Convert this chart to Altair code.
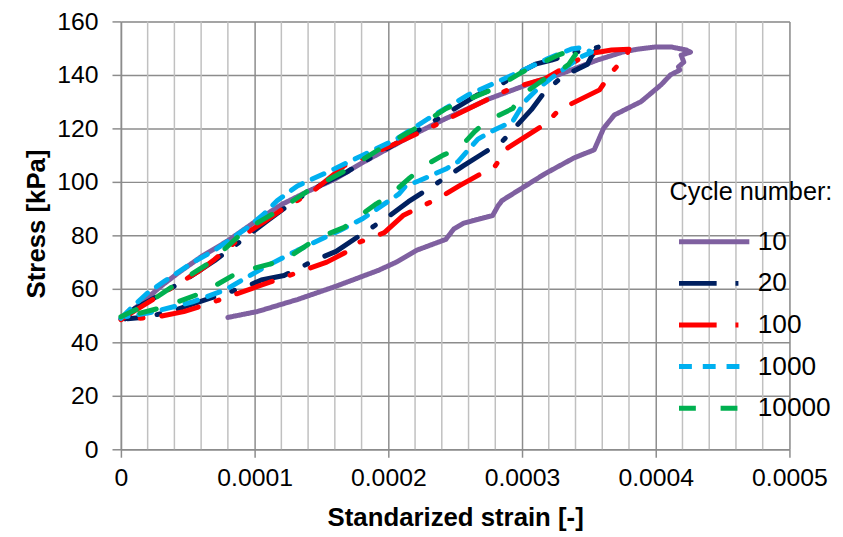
import altair as alt
import pandas as pd

cycles = ["10", "20", "100", "1000", "10000"]
colors = ["#7F60A0", "#002060", "#FF0000", "#00B0F0", "#00B050"]
dashes = [[1, 0], [38, 19, 3, 19], [38, 19, 3, 19], [13, 11], [17, 25]]

x_major = [0, 0.0001, 0.0002, 0.0003, 0.0004, 0.0005]
x_minor = [0.00002, 0.00004, 0.00006, 0.00008, 0.00012, 0.00014, 0.00016, 0.00018,
           0.00022, 0.00024, 0.00026, 0.00028, 0.00032, 0.00034, 0.00036, 0.00038,
           0.00042, 0.00044, 0.00046, 0.00048]
y_ticks = [0, 20, 40, 60, 80, 100, 120, 140, 160]

strain_10 = [0.0, 0.000006, 0.000015, 0.00003, 0.000043, 0.00006, 0.00008, 0.0001, 0.00012,
             0.00014, 0.00016, 0.00018, 0.0002, 0.00022, 0.000243, 0.00026, 0.000275, 0.00031,
             0.000327, 0.000356, 0.000375, 0.000386, 0.000399, 0.000412, 0.000423, 0.000426,
             0.000419, 0.000421, 0.000417, 0.000418, 0.000411, 0.000404, 0.000389, 0.000369,
             0.000361, 0.000354, 0.000339, 0.000317, 0.000285, 0.000282, 0.000278, 0.000256,
             0.000249, 0.000243, 0.000221, 0.000206, 0.000193, 0.000161, 0.000132, 0.000102,
             0.00008]
stress_10 = [48.8, 51, 54.5, 61, 66, 72, 78, 85, 91.5,
             96.5, 101, 107, 112.5, 118, 123.7, 127.5, 131, 137.5,
             140, 145.5, 148.5, 149.6, 150.4, 150.4, 149.3, 148.5,
             147.4, 144.8, 143, 141.8, 140, 136.3, 130, 125,
             120, 112, 109, 103, 93, 91, 87.4, 84.5,
             82.4, 78.5, 74.4, 70, 67, 61, 56, 51.5,
             49.3]

strain_20 = [0.000003, 0.00001, 0.00003, 0.00005, 0.00007, 0.00009, 0.00011, 0.00013, 0.00015,
             0.00017, 0.00019, 0.00021, 0.00024, 0.000267, 0.00028, 0.000295, 0.00031, 0.000322,
             0.00034, 0.000357, 0.000352, 0.000349, 0.00033, 0.000317, 0.000307, 0.000285,
             0.000271, 0.000256, 0.00023, 0.000215, 0.000201, 0.000181, 0.000161, 0.000145,
             0.000122, 0.000105, 0.000093, 0.000068, 0.00004, 0.00002, 0.000005]
stress_20 = [48.8, 52.5, 58, 64, 70.5, 78, 85.6, 93, 99,
             104, 110, 115.5, 124.5, 132.6, 135, 140, 144, 145.5,
             148.5, 150.4, 147, 144, 139.3, 133.7, 127, 115,
             110.7, 106, 97.4, 92.6, 87.4, 80.7, 74, 70.7,
             65, 63.3, 60.7, 56.7, 52, 49.5, 48.8]

strain_100 = [0.0, 0.000011, 0.000027, 0.00004, 0.000058, 0.00007, 0.000082, 0.000093, 0.000107,
              0.00012, 0.000132, 0.000145, 0.000167, 0.000181, 0.000204, 0.000233, 0.000248,
              0.000275, 0.000292, 0.000317, 0.000339, 0.000349, 0.000367, 0.00038, 0.000378,
              0.000367, 0.000358, 0.000328, 0.000317, 0.000289, 0.00028, 0.000253, 0.000238,
              0.000211, 0.000197, 0.000176, 0.000171, 0.000154, 0.000126, 0.000112, 0.000063,
              0.000047, 0.000028, 0.00001, 0.0]
stress_100 = [48.5, 52, 57, 61, 66.5, 71, 76, 80.5, 85,
              89.5, 93, 97, 106, 109, 114, 120.7, 124.4,
              131, 135, 138.5, 144.8, 147.8, 149.3, 149.6, 147,
              141, 134.4, 127, 121.5, 112.6, 106, 98.5, 94,
              87.4, 81, 77, 74.4, 70, 65, 62.6, 54,
              51.5, 49.6, 48.8, 48.5]

strain_1000 = [0.0, 0.000004, 0.000008, 0.00002, 0.000033, 0.000053, 0.00007, 0.000095, 0.000107,
               0.000117, 0.000132, 0.000156, 0.000181, 0.000206, 0.00023, 0.00026, 0.000293,
               0.000319, 0.000337, 0.000345, 0.000352, 0.000344, 0.000325, 0.000312, 0.000302,
               0.000293, 0.00028, 0.000267, 0.000252, 0.000243, 0.000223, 0.000213, 0.000208,
               0.000181, 0.000164, 0.000132, 0.000107, 0.000078, 0.000053, 0.000021, 0.000004]
stress_1000 = [49, 51, 53, 58.5, 63, 69.6, 74.4, 83, 88,
               93, 98.5, 104, 110, 116, 123.7, 132.6, 140,
               146, 149.7, 150.2, 148.5, 146.7, 140, 135, 130,
               122.6, 119.6, 116, 107.5, 104.8, 100.4, 98.5, 95.5,
               86.3, 81.9, 74.4, 68, 59.6, 55, 51, 49.6]

strain_10000 = [0.0, 0.000016, 0.000045, 0.000067, 0.000093, 0.000117, 0.000141, 0.000167, 0.000199,
                0.000219, 0.000243, 0.00028, 0.0003, 0.000327, 0.000339, 0.000343, 0.000335,
                0.000327, 0.000317, 0.0003, 0.000293, 0.000273, 0.000265, 0.000253, 0.000241,
                0.000227, 0.000216, 0.000201, 0.000191, 0.000167, 0.000147, 0.000122, 0.000087,
                0.000063, 0.000033, 0.000004]
stress_10000 = [49.6, 53.3, 63, 70, 82, 89, 97, 104, 114,
                119.6, 127.4, 135, 141, 147.4, 149.6, 149.8, 144,
                141, 138.5, 132.6, 127.4, 122.6, 119, 112.6, 110,
                106, 101.5, 94.8, 91.8, 83, 78.9, 70.7, 66,
                59, 53.3, 49.6]

series = {
    "10": (strain_10, stress_10),
    "20": (strain_20, stress_20),
    "100": (strain_100, stress_100),
    "1000": (strain_1000, stress_1000),
    "10000": (strain_10000, stress_10000),
}

rows = []
for c in cycles:
    xs, ys = series[c]
    for i, (sx, sy) in enumerate(zip(xs, ys)):
        rows.append({"cycle": c, "strain": sx, "stress": sy, "idx": i})
df = pd.DataFrame(rows)
minor_df = pd.DataFrame({"strain": x_minor})

FONT = "Liberation Sans"
GRID = "#8C8C8C"

x_enc = alt.X(
    "strain:Q",
    scale=alt.Scale(domain=[0, 0.0005], nice=False, zero=False),
    axis=alt.Axis(
        values=x_major,
        labelExpr="datum.value == 0 ? '0' : format(datum.value, '.4f')",
        title="Standarized strain [-]",
        grid=True, gridColor=GRID, gridWidth=1.5,
        domainColor=GRID, domainWidth=1.5,
        tickColor=GRID, tickWidth=1.5, tickSize=8,
        labelPadding=9, labelFontSize=25, labelColor="black", labelFont=FONT,
        labelFlush=False, labelOverlap=False,
        titleFontSize=26, titleFontWeight="bold", titleFont=FONT, titleColor="black",
        titleY=77, titleBaseline="alphabetic",
    ),
)
y_enc = alt.Y(
    "stress:Q",
    scale=alt.Scale(domain=[0, 160], nice=False),
    axis=alt.Axis(
        values=y_ticks,
        title="Stress  [kPa]",
        grid=True, gridColor=GRID, gridWidth=1.5,
        domainColor=GRID, domainWidth=1.5,
        tickColor=GRID, tickWidth=1.5, tickSize=9,
        labelPadding=14, labelFontSize=25, labelColor="black", labelFont=FONT,
        labelOverlap=False,
        titleFontSize=26, titleFontWeight="bold", titleFont=FONT, titleColor="black",
        titleX=-85, titleY=204, titleAlign="center", titleBaseline="middle", titleAngle=-90,
    ),
)

legend = alt.Legend(
    title="Cycle number:", orient="none", legendX=554, legendY=160,
    symbolType="stroke", symbolSize=5041, symbolStrokeWidth=5, symbolOffset=7,
    labelOffset=6, clipHeight=42, rowPadding=0, titlePadding=16,
    titleFontSize=25.5, titleFontWeight="normal", titleFont=FONT, titleColor="black",
    titleLimit=400, labelFontSize=26.5, labelFont=FONT, labelColor="black", padding=0,
)

minor = alt.Chart(minor_df).mark_rule(color="#C0C0C0", strokeWidth=1.5).encode(x=x_enc)

lines = alt.Chart(df).mark_line(strokeWidth=5, strokeCap="round", strokeJoin="round").encode(
    x=x_enc,
    y=y_enc,
    color=alt.Color("cycle:N", scale=alt.Scale(domain=cycles, range=colors), legend=legend),
    strokeDash=alt.StrokeDash("cycle:N", scale=alt.Scale(domain=cycles, range=dashes), legend=legend),
    order=alt.Order("idx:Q"),
)

chart = alt.layer(minor, lines).properties(
    width=675, height=432,
    autosize=alt.AutoSizeParams(type="none"),
    padding={"left": 114, "top": 11, "right": 46, "bottom": 86},
).configure_view(stroke=None).configure(background="white")

chart.save("out.html", embed_options={"renderer": "svg", "actions": False})
